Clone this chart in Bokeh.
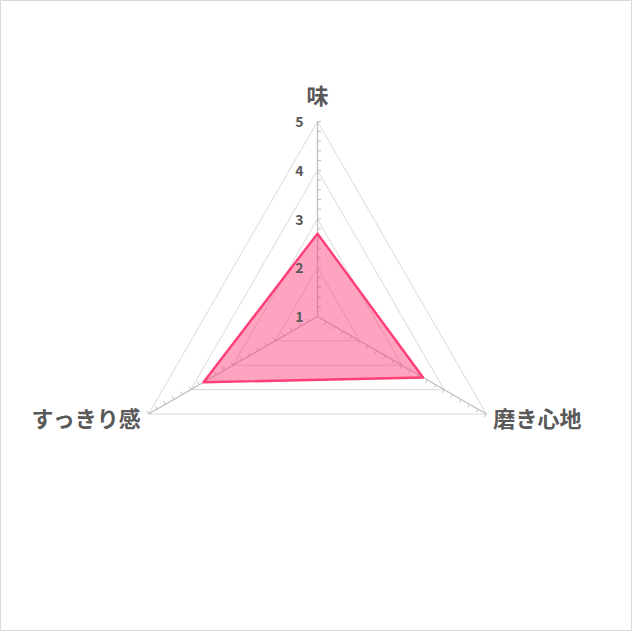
import math
from bokeh.plotting import figure
from bokeh.models import Range1d
from bokeh.core.properties import value
from bokeh.embed import file_html
from bokeh.resources import INLINE

# ---- data ----
categories = ["味", "磨き心地", "すっきり感"]
scores = [2.7, 3.5, 3.7]
axis_min = 1
axis_max = 5
tick_values = [1, 2, 3, 4, 5]
tick_labels = ["1", "2", "3", "4", "5"]
minor_step = 0.2

# ---- geometry ----
W, H = 632, 631
PX = 48.75                 # pixels per value unit
CXL, CYL = 317, 316        # chart centre in figure-local pixels
FONT = value("Noto Sans CJK JP")
TXT = "#595959"

p = figure(width=W, height=H, output_backend="svg", toolbar_location=None,
           x_axis_type=None, y_axis_type=None, min_border=0,
           x_range=Range1d(-CXL / PX, (W - CXL) / PX),
           y_range=Range1d(-(H - CYL) / PX, CYL / PX),
           background_fill_color="white", border_fill_color="white")
p.grid.visible = False
p.outline_line_color = "#d9d9d9"
p.outline_line_width = 1

n = len(categories)
angles = [math.radians(90 - 360.0 / n * i) for i in range(n)]

def pt(v, a):
    r = v - axis_min
    return r * math.cos(a), r * math.sin(a)

# grid triangles
for v in tick_values[1:]:
    xs = [pt(v, a)[0] for a in angles] + [pt(v, angles[0])[0]]
    ys = [pt(v, a)[1] for a in angles] + [pt(v, angles[0])[1]]
    p.line(xs, ys, line_color="#d9d9d9", line_width=1)

# spokes
p.segment(x0=[0] * n, y0=[0] * n,
          x1=[pt(axis_max, a)[0] for a in angles],
          y1=[pt(axis_max, a)[1] for a in angles],
          line_color="#bfbfbf", line_width=1.3)

# minor ticks
tl = 3.5 / PX
nsteps = int(round((axis_max - axis_min) / minor_step))
tx0, ty0, tx1, ty1 = [], [], [], []
for a in angles:
    pa = a - math.pi / 2
    for k in range(1, nsteps + 1):
        v = axis_min + k * minor_step
        x, y = pt(v, a)
        tx0.append(x); ty0.append(y)
        tx1.append(x + tl * math.cos(pa)); ty1.append(y + tl * math.sin(pa))
p.segment(x0=tx0, y0=ty0, x1=tx1, y1=ty1, line_color="#bfbfbf", line_width=1)

# series
sx = [pt(s, a)[0] for s, a in zip(scores, angles)]
sy = [pt(s, a)[1] for s, a in zip(scores, angles)]
p.patch(sx, sy, fill_color="#ff3d7a", fill_alpha=0.47, line_color="#ff3d77",
        line_width=2.4, line_join="round")

# value labels
p.text(x=[-14 / PX] * len(tick_values), y=[v - axis_min for v in tick_values],
       text=tick_labels, text_align="right", text_baseline="middle",
       text_font=FONT, text_font_size="14px", text_font_style="bold",
       text_color=TXT)

# category labels
off = 7 / PX
lx, ly, aligns = [], [], []
for a in angles:
    x, y = pt(axis_max, a)
    c = math.cos(a)
    if abs(c) < 0.1:
        lx.append(x); ly.append(y + 28 / PX); aligns.append("center")
    elif c > 0:
        lx.append(x + off); ly.append(y - 2.5 / PX); aligns.append("left")
    else:
        lx.append(x - off); ly.append(y - 2.5 / PX); aligns.append("right")
for x, y, t, al in zip(lx, ly, categories, aligns):
    p.text(x=[x], y=[y], text=[t], text_align=al, text_baseline="middle",
           text_font=FONT, text_font_size="22px", text_font_style="bold",
           text_color=TXT)

open("out.html", "w").write(file_html(p, INLINE))
